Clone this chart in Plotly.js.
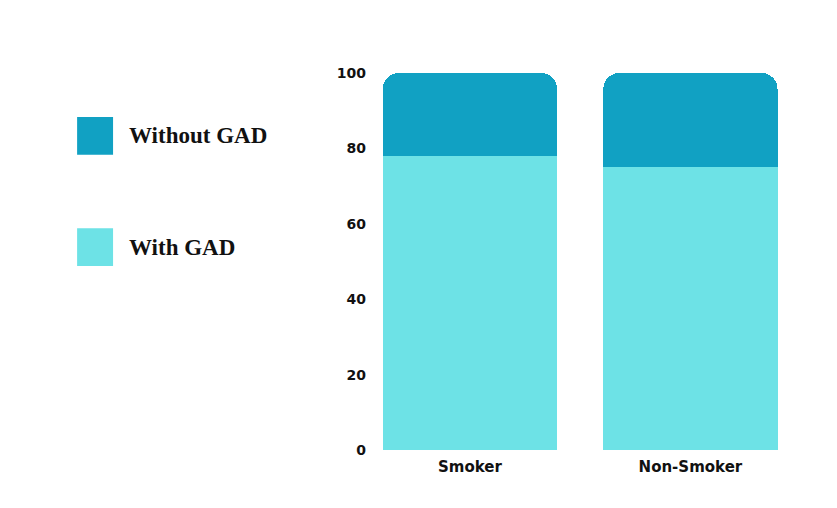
<!DOCTYPE html>
<html>
<head>
<meta charset="utf-8">
<script src="https://cdn.plot.ly/plotly-3.0.1.min.js"></script>
<style>
  html, body { margin: 0; padding: 0; background: #ffffff; }
  #chart { width: 837px; height: 508px; }
</style>
</head>
<body>
<div id="chart"></div>
<script>
// Share of people with / without generalized anxiety disorder, by smoking status
const groups = ["Smoker", "Non-Smoker"];
const withGAD = [78, 75];
const withoutGAD = [22, 25];
const seriesNames = ["With GAD", "Without GAD"];
const seriesColors = ["#6de2e6", "#11a1c3"];
const yTicks = [0, 20, 40, 60, 80, 100];

const sansBold = "'DejaVu Sans', Inter, sans-serif";

const traces = [
  {
    type: "bar", x: groups, y: withGAD, name: seriesNames[0],
    marker: { color: seriesColors[0], line: { width: 0 } },
    hoverinfo: "x+y+name", showlegend: false
  },
  {
    type: "bar", x: groups, y: withoutGAD, name: seriesNames[1],
    marker: { color: seriesColors[1], line: { width: 0 }, cornerradius: 16 },
    hoverinfo: "x+y+name", showlegend: false
  }
];

// Legend drawn as swatches + serif labels on the left side
const legendRows = [
  { name: seriesNames[1], color: seriesColors[1], y: 0.833 },
  { name: seriesNames[0], color: seriesColors[0], y: 0.538 }
];
const shapes = legendRows.map(r => ({
  type: "rect", xref: "paper", yref: "paper",
  x0: -0.689, x1: -0.605, y0: r.y - 0.05, y1: r.y + 0.05,
  fillcolor: r.color, line: { width: 0 }
}));
const annotations = legendRows.map(r => ({
  xref: "paper", yref: "paper", x: -0.572, y: r.y,
  xanchor: "left", yanchor: "middle", showarrow: false,
  text: "<b>" + r.name + "</b>",
  font: { family: "'Liberation Serif', 'Times New Roman', serif", size: 23, color: "#111111" }
}));

const layout = {
  width: 837, height: 508,
  margin: { l: 372, r: 37, t: 73, b: 58 },
  paper_bgcolor: "#ffffff", plot_bgcolor: "#ffffff",
  barmode: "stack",
  bargap: 0.21,
  showlegend: false,
  xaxis: {
    range: [-0.444, 1.497],
    showgrid: false, zeroline: false, showline: false,
    ticks: "", ticklabelstandoff: 6,
    tickfont: { family: sansBold, size: 15, color: "#111111", weight: 700 },
    fixedrange: true
  },
  yaxis: {
    range: [0, 100],
    tickvals: yTicks, ticktext: yTicks.map(String),
    showgrid: false, zeroline: false, showline: false,
    ticks: "", ticklabelstandoff: 5,
    tickfont: { family: sansBold, size: 14, color: "#111111", weight: 700 },
    fixedrange: true
  },
  shapes: shapes,
  annotations: annotations
};

Plotly.newPlot("chart", traces, layout, { displayModeBar: false, staticPlot: true });
</script>
</body>
</html>
